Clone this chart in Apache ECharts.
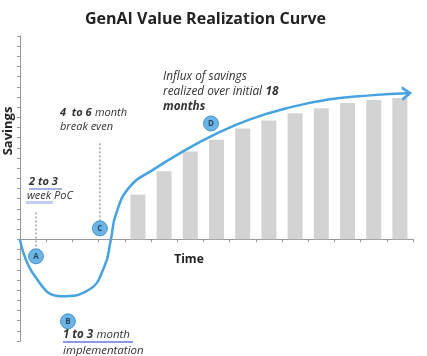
<!DOCTYPE html>
<html><head><meta charset="utf-8">
<script src="https://cdn.jsdelivr.net/npm/echarts@6/dist/echarts.min.js"></script>
<style>html,body{margin:0;padding:0;background:#fff}#c{width:427px;height:356px}</style>
</head><body><div id="c"></div>
<script>
// ---- data ----
const barPositions = [4.5, 5.5, 6.5, 7.5, 8.5, 9.5, 10.5, 11.5, 12.5, 13.5, 14.5];
const barValues = [4.4, 6.7, 8.65, 9.8, 10.9, 11.7, 12.4, 12.9, 13.4, 13.7, 13.9];
const curveX = [0, 0.57, 1.60, 2.60, 3.21, 3.47, 3.66, 4.20, 5.04, 6.22, 7.44, 8.78, 10.31, 11.83, 13.36, 14.81];
const curveY = [0, -3.64, -5.6, -5.01, -2.75, 0, 2.46, 5.21, 6.78, 8.65, 10.32, 11.8, 12.98, 13.77, 14.16, 14.36];
const markerNames = ['A', 'B', 'C', 'D'];
const markerX = [0.61, 1.83, 3.05, 7.29];
const markerY = [-1.67, -8.06, 1.08, 11.4];
const guideA = [[0.61, -0.7], [0.61, 2.75]];
const guideC = [[3.05, 1.77], [3.05, 9.64]];

const BLUE = '#46a2e0';
const chart = echarts.init(document.getElementById('c'), null, {renderer: 'canvas'});

const curveData = curveX.map((x, i) => {
  const item = {value: [x, curveY[i]]};
  if (i === curveX.length - 1) {
    item.symbol = 'path://M0,0L8,6L0,12';
    item.symbolSize = [8, 12];
    item.symbolOffset = [-2, 0];
    item.symbolRotate = 3;
    item.itemStyle = {color: 'rgba(0,0,0,0)', borderColor: BLUE, borderWidth: 2.5};
  }
  return item;
});

const FONT = '"Open Sans", sans-serif';
const txt = '#333';

chart.setOption({
  animation: false,
  title: {
    text: 'GenAI Value Realization Curve', left: 80, top: 6,
    textStyle: {fontFamily: FONT, fontSize: 16, fontWeight: 'bold', color: '#222'}
  },
  grid: {left: 20, right: 14, top: 36, bottom: 15},
  xAxis: {
    type: 'value', min: 0, max: 15, interval: 1,
    axisLine: {onZero: true, lineStyle: {color: '#999', width: 1}},
    axisTick: {show: true, length: 3, lineStyle: {color: '#999'}},
    axisLabel: {show: false}, splitLine: {show: false}
  },
  yAxis: {
    type: 'value', min: -10, max: 20, interval: 1,
    axisLine: {show: true, onZero: false, lineStyle: {color: '#999', width: 1}},
    axisTick: {show: true, length: 3, lineStyle: {color: '#999'}},
    axisLabel: {show: false}, splitLine: {show: false}
  },
  series: [
    {
      type: 'bar', data: barPositions.map((x, i) => [x, barValues[i]]),
      barWidth: 15, itemStyle: {color: '#d3d3d3'}, z: 1
    },
    {
      type: 'line', data: guideA, symbol: 'none', silent: true,
      lineStyle: {color: '#777', width: 1, type: [2, 2]}, z: 2
    },
    {
      type: 'line', data: guideC, symbol: 'none', silent: true,
      lineStyle: {color: '#777', width: 1, type: [2, 2]}, z: 2
    },
    {
      type: 'line', data: curveData, symbol: 'none', smooth: 0.5,
      lineStyle: {color: BLUE, width: 2.5}, z: 3
    },
    {
      type: 'scatter', symbolSize: 15,
      data: markerX.map((x, i) => ({value: [x, markerY[i]], name: markerNames[i]})),
      itemStyle: {color: BLUE, borderColor: '#2f86c4', borderWidth: 1},
      label: {show: true, position: 'inside', formatter: '{b}', color: '#1c2a3a',
        fontFamily: FONT, fontSize: 8, fontWeight: 'bold'},
      z: 4
    }
  ],
  graphic: [
    {type: 'text', x: 8, y: 131, rotation: Math.PI / 2, style: {text: 'Savings', font: 'bold 13px ' + FONT, fill: '#222', align: 'center', verticalAlign: 'middle'}},
    {type: 'text', x: 189, y: 260, style: {text: 'Time', font: 'bold 12px ' + FONT, fill: '#222', align: 'center', verticalAlign: 'middle'}},
    // 2 to 3 week PoC
    {type: 'rect', shape: {x: 29, y: 188, width: 33, height: 2}, style: {fill: '#a9b3e6'}},
    {type: 'rect', shape: {x: 26, y: 201, width: 27, height: 3}, style: {fill: '#c3cdf0'}},
    {type: 'text', x: 29, y: 182, style: {rich: {b: {font: 'italic bold 11px ' + FONT, fill: txt}}, text: '{b|2 to 3}', verticalAlign: 'middle'}},
    {type: 'text', x: 27, y: 196, style: {text: 'week PoC', font: 'italic 11px ' + FONT, fill: txt, verticalAlign: 'middle'}},
    // 4 to 6 month break even
    {type: 'text', x: 60, y: 113, style: {text: '{b|4  to 6} {i|month}', verticalAlign: 'middle',
      rich: {b: {font: 'italic bold 11px ' + FONT, fill: txt}, i: {font: 'italic 11px ' + FONT, fill: txt}}}},
    {type: 'text', x: 60, y: 127, style: {text: 'break even', font: 'italic 11px ' + FONT, fill: txt, verticalAlign: 'middle'}},
    // Influx
    {type: 'text', x: 163, y: 77, style: {text: 'Influx of savings', font: 'italic 11.8px ' + FONT, fill: txt, verticalAlign: 'middle'}},
    {type: 'text', x: 163, y: 92, style: {text: '{i|realized over initial} {b|18}', verticalAlign: 'middle',
      rich: {b: {font: 'italic bold 11.8px ' + FONT, fill: txt}, i: {font: 'italic 11.8px ' + FONT, fill: txt}}}},
    {type: 'text', x: 163, y: 107, style: {text: 'months', font: 'italic bold 11.8px ' + FONT, fill: txt, verticalAlign: 'middle'}},
    // 1 to 3 month implementation
    {type: 'rect', shape: {x: 63, y: 341, width: 70, height: 2}, style: {fill: '#8d9be0'}},
    {type: 'text', x: 63, y: 335, style: {text: '{b|1 to 3} {i|month}', verticalAlign: 'middle',
      rich: {b: {font: 'italic bold 11.5px ' + FONT, fill: txt}, i: {font: 'italic 11.5px ' + FONT, fill: txt}}}},
    {type: 'text', x: 63, y: 351, style: {text: 'implementation', font: 'italic 11.5px ' + FONT, fill: txt, verticalAlign: 'middle'}}
  ]
});
</script>
</body></html>
